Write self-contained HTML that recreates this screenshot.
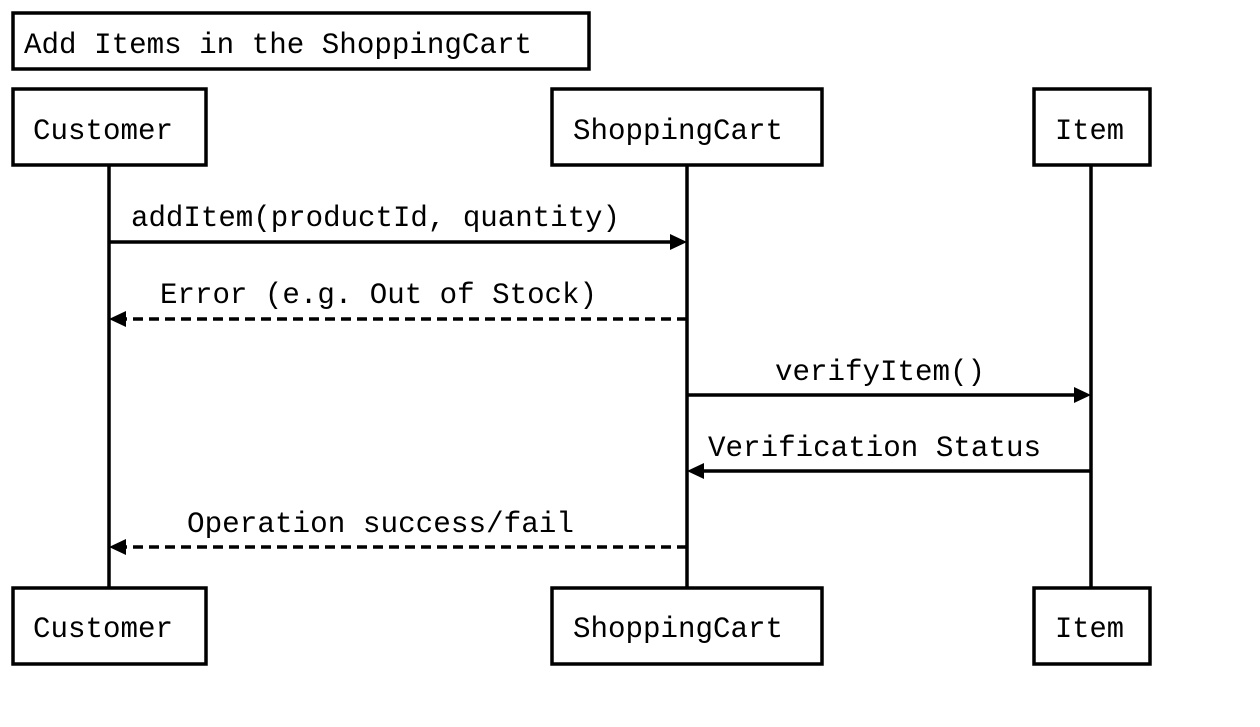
<!DOCTYPE html>
<html><head><meta charset="utf-8"><style>html,body{margin:0;padding:0;background:#fff;}svg{display:block}</style></head>
<body>
<svg width="1260" height="727" xmlns="http://www.w3.org/2000/svg" font-family="'Liberation Mono', monospace" font-size="30" fill="#000">
<rect width="1260" height="727" fill="#fff"/>
<g fill="none" stroke="#000" stroke-width="3.5">
<rect x="13" y="13" width="576" height="56"/>
<rect x="13" y="89" width="193" height="76"/>
<rect x="552" y="89" width="270" height="76"/>
<rect x="1034" y="89" width="116" height="76"/>
<rect x="13" y="588" width="193" height="76"/>
<rect x="552" y="588" width="270" height="76"/>
<rect x="1034" y="588" width="116" height="76"/>
<line x1="109" y1="165" x2="109" y2="588"/>
<line x1="687" y1="165" x2="687" y2="588"/>
<line x1="1091" y1="165" x2="1091" y2="588"/>
<line x1="109" y1="242" x2="672" y2="242"/>
<line x1="687" y1="319" x2="124" y2="319" stroke-dasharray="10,6"/>
<line x1="687" y1="395" x2="1076" y2="395"/>
<line x1="1091" y1="471" x2="702" y2="471"/>
<line x1="687" y1="547" x2="124" y2="547" stroke-dasharray="10,6"/>
</g>
<polygon points="687,242 670,234 670,250"/>
<polygon points="109,319 126,311 126,327"/>
<polygon points="1091,395 1074,387 1074,403"/>
<polygon points="687,471 704,463 704,479"/>
<polygon points="109,547 126,539 126,555"/>
<text x="24" y="53" textLength="508" lengthAdjust="spacingAndGlyphs">Add Items in the ShoppingCart</text>
<text x="33" y="139" textLength="140" lengthAdjust="spacingAndGlyphs">Customer</text>
<text x="573" y="139" textLength="210" lengthAdjust="spacingAndGlyphs">ShoppingCart</text>
<text x="1055" y="139" textLength="69" lengthAdjust="spacingAndGlyphs">Item</text>
<text x="33" y="637" textLength="140" lengthAdjust="spacingAndGlyphs">Customer</text>
<text x="573" y="637" textLength="210" lengthAdjust="spacingAndGlyphs">ShoppingCart</text>
<text x="1055" y="637" textLength="69" lengthAdjust="spacingAndGlyphs">Item</text>
<text x="131" y="226" textLength="489" lengthAdjust="spacingAndGlyphs">addItem(productId, quantity)</text>
<text x="160" y="303" textLength="437" lengthAdjust="spacingAndGlyphs">Error (e.g. Out of Stock)</text>
<text x="775" y="380" textLength="210" lengthAdjust="spacingAndGlyphs">verifyItem()</text>
<text x="708" y="456" textLength="333" lengthAdjust="spacingAndGlyphs">Verification Status</text>
<text x="187" y="532" textLength="387" lengthAdjust="spacingAndGlyphs">Operation success/fail</text>
</svg>
</body></html>
